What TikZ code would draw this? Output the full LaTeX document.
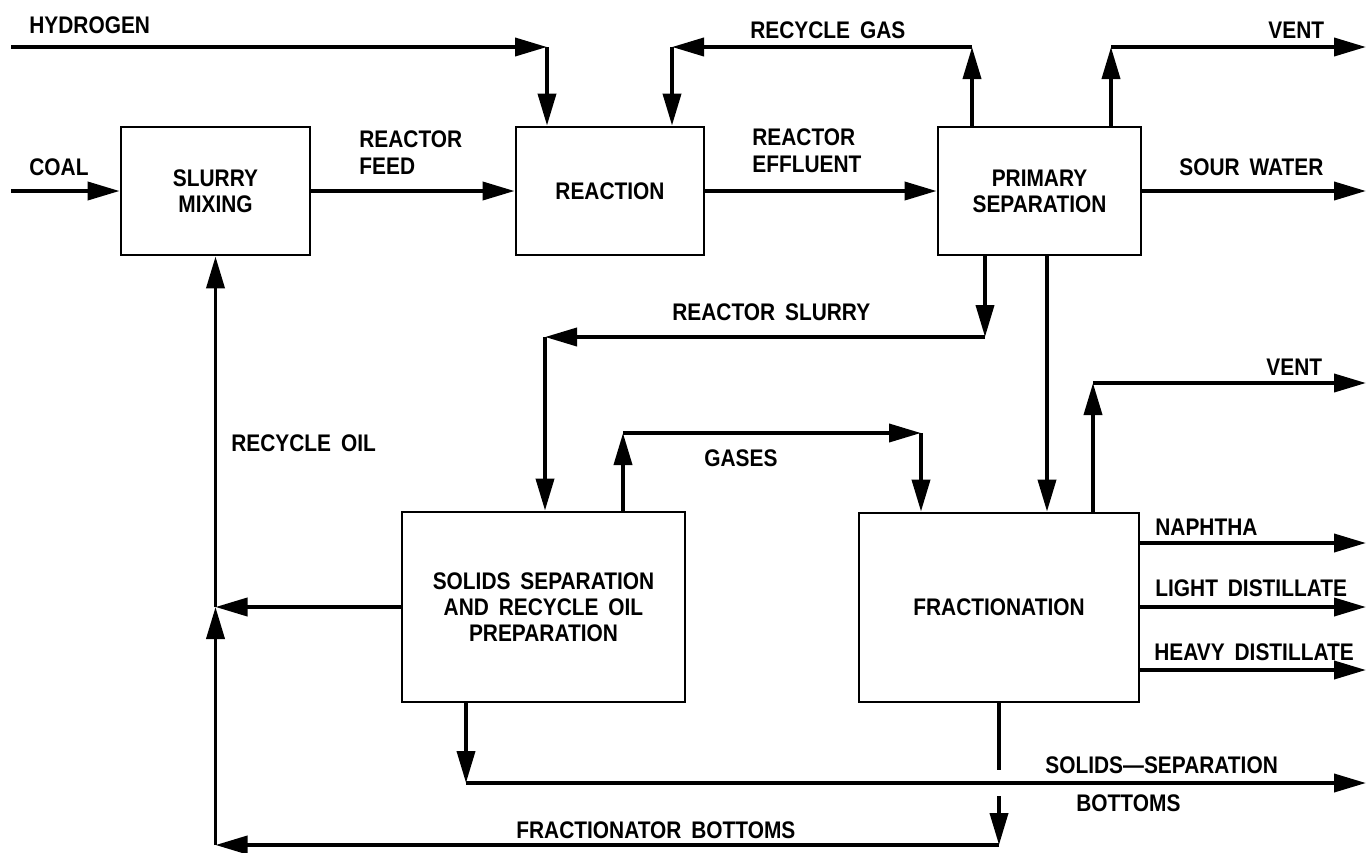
\documentclass[tikz,border=0pt]{standalone}
\usepackage{fontspec}
\newfontfamily\plotfont{Liberation Sans}[FakeStretch=0.87, WordSpace=1.7]
\usetikzlibrary{arrows.meta}

\begin{document}
\begin{tikzpicture}[x=0.5pt,y=-0.5pt,
  unit/.style={draw, line width=1.4pt, inner sep=0pt, align=center,
    font=\plotfont\bfseries\fontsize{12}{13}\selectfont},
  tag/.style={inner sep=0pt, anchor=west, align=left,
    font=\plotfont\bfseries\fontsize{12}{13.5}\selectfont},
  pipe/.style={line width=1.9pt},
  flow/.style={pipe, -{Triangle[length=16pt,width=9pt]}}]
\useasboundingbox (0,0) rectangle (1366,852);

\node[unit, minimum width=94.5pt, minimum height=64pt] (slurry) at (215.5,191) {SLURRY\\MIXING};
\node[unit, minimum width=94pt, minimum height=64pt] (reaction) at (610,191) {REACTION};
\node[unit, minimum width=101.5pt, minimum height=64pt] (primary) at (1039.5,191) {PRIMARY\\SEPARATION};
\node[unit, minimum width=141.5pt, minimum height=95pt] (solids) at (543.5,607) {SOLIDS SEPARATION\\AND RECYCLE OIL\\PREPARATION};
\node[unit, minimum width=140pt, minimum height=94.5pt] (frac) at (999,607.5) {FRACTIONATION};

\node[tag] (t-hyd) at (29,25) {HYDROGEN};
\node[tag] (t-coal) at (29,167) {COAL};
\node[tag] (t-feed) at (359,153) {REACTOR\\FEED};
\node[tag] (t-eff) at (752,151) {REACTOR\\EFFLUENT};
\node[tag] (t-rgas) at (750,30) {RECYCLE GAS};
\node[tag] (t-vent) at (1268,30) {VENT};
\node[tag] (t-sour) at (1179,167) {SOUR WATER};
\node[tag] (t-rslurry) at (672,312) {REACTOR SLURRY};
\node[tag] (t-roil) at (231,443) {RECYCLE OIL};
\node[tag] (t-gases) at (704,458) {GASES};
\node[tag] (t-vent2) at (1266,367) {VENT};
\node[tag] (t-naph) at (1155,527) {NAPHTHA};
\node[tag] (t-light) at (1155,588) {LIGHT DISTILLATE};
\node[tag] (t-heavy) at (1154,652) {HEAVY DISTILLATE};
\node[tag] (t-ssb) at (1045,765) {SOLIDS—SEPARATION};
\node[tag] (t-ssb2) at (1076,803) {BOTTOMS};
\node[tag] (t-fb) at (516,830) {FRACTIONATOR BOTTOMS};

\coordinate (hyd) at (11,47);
\coordinate (hydc) at (547,47);
\coordinate (coal) at (11,191);
\coordinate (rg1) at (972,47);
\coordinate (rg2) at (672,47);
\coordinate (vent) at (1111,47);
\coordinate (ventend) at (1366,47);
\coordinate (sour) at (1366,191);
\coordinate (rs1) at (985,337);
\coordinate (rs2) at (545,337);
\coordinate (pf) at (1047,400);
\coordinate (g1) at (623,433);
\coordinate (g2) at (921,433);
\coordinate (vent2) at (1093,383);
\coordinate (vent2end) at (1366,383);
\coordinate (naph) at (1366,543);
\coordinate (light) at (1366,607);
\coordinate (heavy) at (1366,670);
\coordinate (ro) at (215.5,607);
\coordinate (fb) at (215.5,845);
\coordinate (fbr) at (999,845);
\coordinate (gapa) at (999,770);
\coordinate (gapb) at (999,796);
\coordinate (ssb) at (466,783);
\coordinate (ssbend) at (1366,783);

\draw[flow] (hyd) -- (hydc);
\draw[flow] (hydc) -- (hydc |- reaction.north);
\draw[flow] (coal) -- (slurry.west);
\draw[flow] (slurry.east) -- (reaction.west);
\draw[flow] (reaction.east) -- (primary.west);
\draw[flow] (primary.east) -- (sour);
\draw[flow] (rg1 |- primary.north) -- (rg1);
\draw[flow] (rg1) -- (rg2);
\draw[flow] (rg2) -- (rg2 |- reaction.north);
\draw[flow] (vent |- primary.north) -- (vent);
\draw[flow] (vent) -- (ventend);
\draw[flow] (rs1 |- primary.south) -- (rs1);
\draw[flow] (rs1) -- (rs2);
\draw[flow] (rs2) -- (rs2 |- solids.north);
\draw[flow] (pf |- primary.south) -- (pf |- frac.north);
\draw[flow] (g1 |- solids.north) -- (g1);
\draw[flow] (g1) -- (g2);
\draw[flow] (g2) -- (g2 |- frac.north);
\draw[flow] (vent2 |- frac.north) -- (vent2);
\draw[flow] (vent2) -- (vent2end);
\draw[flow] (naph -| frac.east) -- (naph);
\draw[flow] (light -| frac.east) -- (light);
\draw[flow] (heavy -| frac.east) -- (heavy);
\draw[flow] (solids.west) -- (ro);
\draw[flow] (ro) -- (slurry.south);
\draw[pipe] (frac.south) -- (gapa);
\draw[flow] (gapb) -- (fbr);
\draw[flow] (fbr) -- (fb);
\draw[flow] (fb) -- (ro);
\draw[flow] (ssb |- solids.south) -- (ssb);
\draw[flow] (ssb) -- (ssbend);
\end{tikzpicture}
\end{document}
